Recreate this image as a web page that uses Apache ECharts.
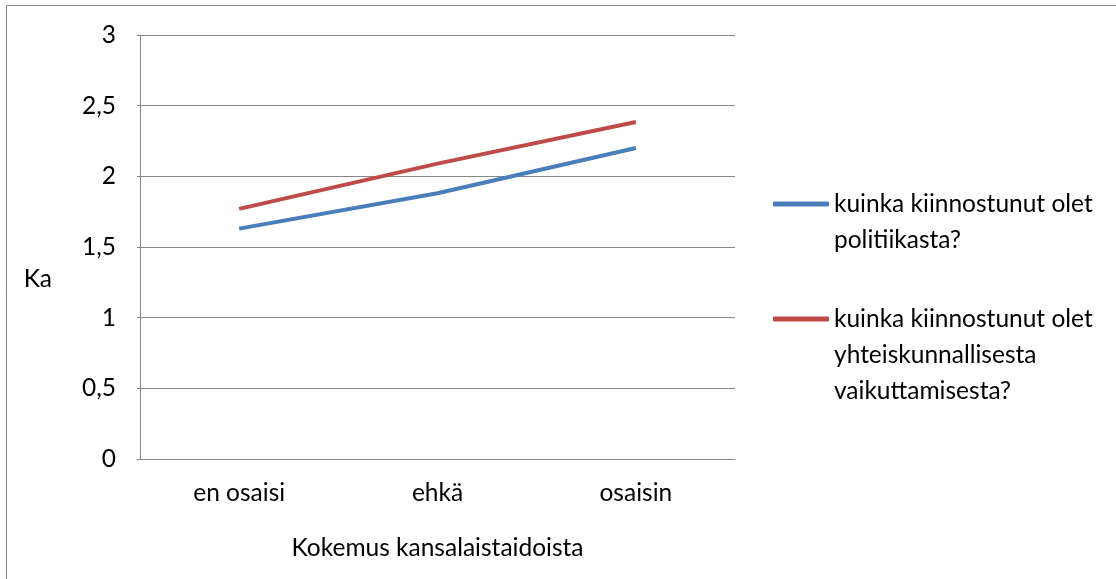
<!DOCTYPE html>
<html>
<head>
<meta charset="utf-8">
<script src="https://cdn.jsdelivr.net/npm/echarts@6/dist/echarts.min.js"></script>
<style>
  html, body { margin: 0; padding: 0; background: #fff; }
  #container { width: 1116px; height: 579px; }
</style>
</head>
<body>
<div id="container"></div>
<script>
var dom = document.getElementById('container');
var myChart = echarts.init(dom, null, { renderer: 'canvas' });

// data
var categories = ['en osaisi', 'ehkä', 'osaisin'];
var politiikka = [1.63, 1.88, 2.20];
var vaikuttaminen = [1.77, 2.09, 2.385];
var seriesNames = [
    'kuinka kiinnostunut olet politiikasta?',
    'kuinka kiinnostunut olet yhteiskunnallisesta vaikuttamisesta?'
];
// legend text split the way the original wraps it
var legendLines = {};
legendLines[seriesNames[0]] = ['kuinka kiinnostunut olet', 'politiikasta?'];
legendLines[seriesNames[1]] = ['kuinka kiinnostunut olet', 'yhteiskunnallisesta', 'vaikuttamisesta?'];

var font = 'Lato, "Open Sans", sans-serif';
var fs = 24.5;
var gray = '#868686';

// pad with empty lines above so the icon sits on the first line
function legendText(name) {
    var lines = legendLines[name];
    var pad = [];
    for (var i = 1; i < lines.length; i++) pad.push('');
    return pad.concat(lines).join('\n');
}

var legendCommon = {
    orient: 'vertical',
    left: 773,
    padding: 0,
    icon: 'roundRect',
    itemWidth: 56,
    itemHeight: 5,
    itemGap: 5,
    formatter: legendText,
    textStyle: { fontFamily: font, fontSize: fs, color: '#000', lineHeight: 36 }
};

var option = {
    backgroundColor: '#fff',
    animation: false,
    textStyle: { fontFamily: font },
    graphic: [{
        type: 'rect',
        shape: { x: 6.5, y: 5.5, width: 1120, height: 590 },
        style: { fill: 'none', stroke: gray, lineWidth: 1 },
        silent: true
    }],
    legend: [
        Object.assign({}, legendCommon, { top: 150, data: [seriesNames[0]] }),
        Object.assign({}, legendCommon, { top: 229, data: [seriesNames[1]] })
    ],
    grid: { left: 140, right: 381, top: 35, bottom: 120, containLabel: false },
    xAxis: {
        type: 'category',
        data: categories,
        boundaryGap: true,
        name: 'Kokemus kansalaistaidoista',
        nameLocation: 'middle',
        nameGap: 77,
        nameTextStyle: { fontFamily: font, fontSize: fs, color: '#000' },
        axisLine: { lineStyle: { color: gray, width: 1 } },
        axisTick: { show: false },
        axisLabel: { fontFamily: font, fontSize: fs, color: '#000', margin: 22 }
    },
    yAxis: {
        type: 'value',
        min: 0,
        max: 3,
        interval: 0.5,
        name: 'Ka',
        nameLocation: 'middle',
        nameRotate: 0,
        nameGap: 88,
        nameTextStyle: {
            fontFamily: font, fontSize: fs, color: '#000',
            verticalAlign: 'top', lineHeight: 64
        },
        axisLine: { show: true, lineStyle: { color: gray, width: 1 } },
        axisTick: { show: true, length: 3, lineStyle: { color: gray } },
        splitLine: { lineStyle: { color: gray, width: 1 } },
        axisLabel: {
            fontFamily: font, fontSize: fs, color: '#000', margin: 24,
            formatter: function (v) { return String(v).replace('.', ','); }
        }
    },
    series: [
        {
            name: seriesNames[0],
            type: 'line',
            symbol: 'none',
            data: politiikka,
            itemStyle: { color: '#4A7EBB' },
            lineStyle: { color: '#4A7EBB', width: 4 }
        },
        {
            name: seriesNames[1],
            type: 'line',
            symbol: 'none',
            data: vaikuttaminen,
            itemStyle: { color: '#BE4B48' },
            lineStyle: { color: '#BE4B48', width: 4 }
        }
    ]
};

myChart.setOption(option);
window.addEventListener('resize', myChart.resize);
</script>
</body>
</html>
